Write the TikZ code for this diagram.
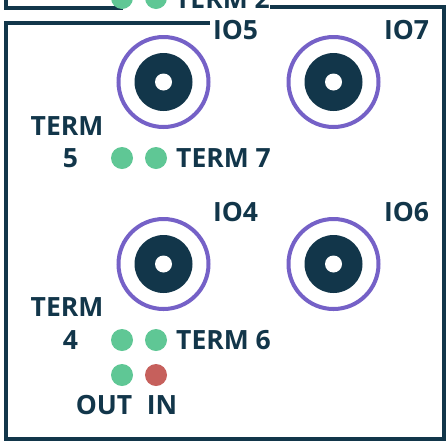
\documentclass[tikz,border=0pt]{standalone}
\usepackage{fontspec}
\setmainfont{Open Sans}
\definecolor{navy}{HTML}{12364A}
\definecolor{ringc}{HTML}{7561C7}
\definecolor{ledg}{HTML}{5FC795}
\definecolor{ledr}{HTML}{C6605C}
\tikzset{
  lbl/.style={text=navy, font=\fontsize{26.5}{32}\selectfont\bfseries, inner sep=0pt},
  frame/.style={draw=navy, line width=4pt},
  ring/.style={circle, draw=ringc, line width=4pt, minimum size=90pt, inner sep=0pt},
  disc/.style={circle, fill=navy, minimum size=58pt, inner sep=0pt},
  hole/.style={circle, fill=white, minimum size=17pt, inner sep=0pt},
  ledgreen/.style={circle, fill=ledg, minimum size=22pt, inner sep=0pt},
  ledred/.style={circle, fill=ledr, minimum size=22pt, inner sep=0pt}
}
\begin{document}
\begin{tikzpicture}[x=1pt, y=-1pt]
\useasboundingbox (0,0) rectangle (446,440);
\clip (0,0) rectangle (446,440);
\fill[white] (0,0) rectangle (446,440);
% frame pieces
\coordinate (ua) at (5.7,-10);
\coordinate (ub) at (5.7,8);
\coordinate (uc) at (123,8);
\draw[frame] (ua) -- (ub) -- (uc);
\coordinate (oa) at (270,6.5);
\coordinate (ob) at (444,6.5);
\coordinate (oc) at (444,450);
\draw[frame] (oa) -- (ob) -- (oc);
\coordinate (ma) at (210,23);
\coordinate (mb) at (5.7,23);
\coordinate (mc) at (5.7,438.5);
\coordinate (md) at (442,438.5);
\draw[frame] (ma) -- (mb) -- (mc) -- (md);
% top partial row
\node[ledgreen] (t2a) at (122,-2) {};
\node[ledgreen] (t2b) at (156,-2) {};
\node[lbl, anchor=east] (term2) at (270,-1.5) {TERM 2};
% connectors
\foreach \n/\x/\y in {c5/163.5/82, c7/333.5/82, c4/163.5/264, c6/333.5/264} {
  \node[ring] (\n r) at (\x,\y) {};
  \node[disc] (\n d) at (\x,\y) {};
  \node[hole] (\n h) at (\x,\y) {};
}
\node[lbl] (io5) at (235.5,30) {IO5};
\node[lbl] (io7) at (406.5,30) {IO7};
\node[lbl] (io4) at (235.5,212) {IO4};
\node[lbl] (io6) at (406.5,212) {IO6};
% terminals
\node[lbl] (term5a) at (67,126) {TERM};
\node[lbl] (term5b) at (70.5,158) {5};
\node[ledgreen] (l5) at (122,158) {};
\node[ledgreen] (l7) at (156,158) {};
\node[lbl, anchor=west] (term7) at (176,158) {TERM 7};
\node[lbl] (term4a) at (67,307) {TERM};
\node[lbl] (term4b) at (70.5,340) {4};
\node[ledgreen] (l4) at (122,340) {};
\node[ledgreen] (l6) at (156,340) {};
\node[lbl, anchor=west] (term6) at (176,340) {TERM 6};
\node[ledgreen] (lout) at (122,375) {};
\node[ledred] (lin) at (156,375) {};
\node[lbl] (out) at (104,405) {OUT};
\node[lbl] (in) at (162,405) {IN};
\end{tikzpicture}
\end{document}
